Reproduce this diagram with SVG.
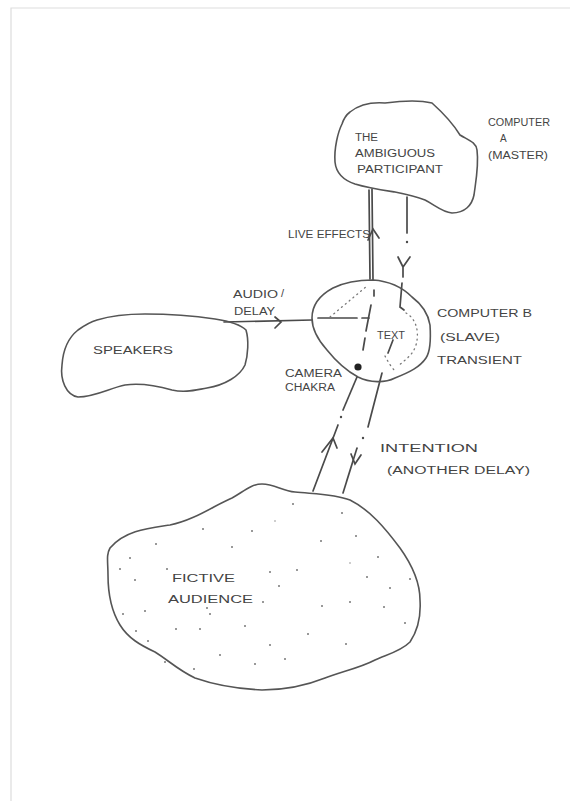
<svg xmlns="http://www.w3.org/2000/svg" width="574" height="801" viewBox="0 0 574 801">
<style>
.cl{fill:none;stroke:#555;stroke-width:1.6;stroke-linejoin:round;stroke-linecap:round}
.ln{fill:none;stroke:#4a4a4a;stroke-width:1.7;stroke-linecap:round}
.dot{fill:none;stroke:#777;stroke-width:1.3;stroke-dasharray:1 4;stroke-linecap:round}
.t{font-family:"Liberation Sans",Arial,sans-serif;font-size:11px;fill:#444}
.s{font-size:10px}
.d{fill:#777}
</style>
<rect width="574" height="801" fill="#fff"/>
<path d="M11,801 V8 H570" fill="none" stroke="#ddd" stroke-width="1.2"/>

<g id="connectors">
  <!-- speakers to computer B -->
  <path class="ln" d="M224,322 L312,320"/>
  <path class="ln" d="M275,317 L281,322 L275,328"/>
  <!-- live effects (up) -->
  <path class="ln" d="M372,189 L373,280"/>
  <path class="ln" d="M369,190 L370,279" stroke-width="0.8"/>
  <path class="ln" d="M368,240 L373,229 L379,238"/>
  <!-- master to slave (down, dash-dot) -->
  <path class="ln" d="M407,197 L407,233"/>
  <circle cx="407" cy="242" r="1.2" fill="#4a4a4a"/>
  <path class="ln" d="M398,257 L403,267 L410,257 M403,267 L403,277"/>
  <path class="ln" d="M402,283 L400,307 L404,310"/>
  <!-- intention lines -->
  <path class="ln" d="M357,377 L343,410"/>
  <circle cx="341" cy="417" r="1.2" fill="#4a4a4a"/>
  <path class="ln" d="M338,425 L313,491"/>
  <path class="ln" d="M322,452 L333,438 L337,448"/>
  <path class="ln" d="M382,373 L368,427"/>
  <circle cx="363" cy="438" r="1.2" fill="#4a4a4a"/>
  <path class="ln" d="M357,448 L343,493"/>
  <path class="ln" d="M351,454 L355,464 L361,455"/>
</g>

<g id="computer-a">
  <path class="cl" d="M350,112 C360,104 372,102 385,103 C400,101 420,100 432,103 C442,112 452,122 460,135 C468,140 476,142 477,150 C479,165 476,180 474,195 C472,205 465,213 452,213 C442,212 435,205 425,200 C415,196 405,194 395,192 C382,190 368,188 355,184 C343,180 336,172 335,162 C334,148 338,132 342,124 C344,118 346,115 350,112 Z"/>
  <text class="t s" x="355" y="141" textLength="23" lengthAdjust="spacingAndGlyphs">THE</text>
  <text class="t s" x="355" y="157" textLength="80" lengthAdjust="spacingAndGlyphs">AMBIGUOUS</text>
  <text class="t s" x="357" y="173" textLength="86" lengthAdjust="spacingAndGlyphs">PARTICIPANT</text>
  <text class="t s" x="488" y="126" textLength="62" lengthAdjust="spacingAndGlyphs">COMPUTER</text>
  <text class="t s" x="500" y="142">A</text>
  <text class="t s" x="488" y="159" textLength="60" lengthAdjust="spacingAndGlyphs">(MASTER)</text>
</g>

<g id="computer-b">
  <path class="cl" d="M373,280 C388,281 402,287 412,297 C420,303 428,312 430,325 C431,340 430,352 426,358 C420,367 410,372 395,378 C385,383 370,383 358,377 C345,370 335,360 327,350 C318,340 312,330 312,318 C312,305 320,295 333,288 C345,282 360,280 373,280 Z"/>
  <path class="ln" d="M318,318 L357,318 M362,318 L369,318" stroke-width="1.4"/>
  <path class="ln" d="M374,290 L374,296 M371,305 L366,331 M365,338 L363,350" stroke-width="1.4"/>
  <path class="dot" d="M330,317 L367,286"/>
  <path class="dot" d="M406,313 C415,318 420,330 416,345 C413,355 405,360 398,366"/>
  <path class="dot" d="M385,356 C388,362 392,368 396,372"/>
  <path class="ln" d="M393,340 L388,353" stroke-width="1.4"/>
  <circle cx="358" cy="367" r="3.6" fill="#222"/>
  <text class="t s" x="377" y="339" textLength="28" lengthAdjust="spacingAndGlyphs">TEXT</text>
  <text class="t" x="437" y="317" textLength="95" lengthAdjust="spacingAndGlyphs">COMPUTER B</text>
  <text class="t" x="440" y="341" textLength="60" lengthAdjust="spacingAndGlyphs">(SLAVE)</text>
  <text class="t" x="437" y="364" textLength="85" lengthAdjust="spacingAndGlyphs">TRANSIENT</text>
  <text class="t s" x="285" y="377" textLength="57" lengthAdjust="spacingAndGlyphs">CAMERA</text>
  <text class="t s" x="285" y="391" textLength="50" lengthAdjust="spacingAndGlyphs">CHAKRA</text>
</g>

<g id="speakers">
  <path class="cl" d="M97,320 C110,316 125,314 145,314 C170,314 195,316 215,319 C228,321 240,324 246,330 C249,340 248,355 245,365 C240,376 225,385 207,388 C195,390 185,393 172,390 C158,386 140,383 125,385 C110,388 95,397 78,397 C66,395 60,380 62,365 C63,350 68,338 78,330 C85,325 90,322 97,320 Z"/>
  <text class="t s" x="93" y="354" textLength="80" lengthAdjust="spacingAndGlyphs">SPEAKERS</text>
</g>

<g id="labels">
  <text class="t" x="288" y="238" textLength="82" lengthAdjust="spacingAndGlyphs">LIVE EFFECTS</text>
  <text class="t s" x="233" y="298" textLength="45" lengthAdjust="spacingAndGlyphs">AUDIO</text>
  <text class="t" x="281" y="297">/</text>
  <text class="t s" x="234" y="315" textLength="41" lengthAdjust="spacingAndGlyphs">DELAY</text>
  <text class="t" x="380" y="452" textLength="98" lengthAdjust="spacingAndGlyphs">INTENTION</text>
  <text class="t s" x="387" y="474" textLength="143" lengthAdjust="spacingAndGlyphs">(ANOTHER DELAY)</text>
</g>

<g id="audience">
  <path class="cl" d="M110,548 C125,530 150,528 170,525 C195,520 215,505 232,498 C242,493 250,484 262,484 C275,484 282,491 295,492 C315,494 335,494 350,500 C370,510 385,528 400,548 C410,562 420,580 420,600 C421,615 418,630 410,642 C400,652 385,655 375,660 C360,668 340,672 325,678 C305,686 285,690 262,690 C240,689 215,685 195,678 C178,670 168,660 155,652 C140,645 128,638 120,625 C112,612 108,595 108,575 C108,562 106,555 110,548 Z"/>
  <text class="t s" x="172" y="582" textLength="63" lengthAdjust="spacingAndGlyphs">FICTIVE</text>
  <text class="t s" x="168" y="603" textLength="85" lengthAdjust="spacingAndGlyphs">AUDIENCE</text>
  <g class="d">
    <circle cx="293" cy="504" r="1"/><circle cx="342" cy="513" r="1"/><circle cx="203" cy="529" r="1"/><circle cx="252" cy="531" r="1"/><circle cx="275" cy="521" r="0.7"/><circle cx="356" cy="536" r="1"/><circle cx="321" cy="541" r="1"/><circle cx="156" cy="544" r="1"/><circle cx="232" cy="547" r="1"/><circle cx="130" cy="558" r="1"/><circle cx="378" cy="557" r="1"/><circle cx="350" cy="563" r="0.7"/><circle cx="120" cy="569" r="1"/><circle cx="167" cy="569" r="1"/><circle cx="270" cy="572" r="1"/><circle cx="297" cy="570" r="1"/><circle cx="135" cy="580" r="1"/><circle cx="367" cy="577" r="1"/><circle cx="410" cy="579" r="1"/><circle cx="279" cy="586" r="1"/><circle cx="390" cy="588" r="1"/><circle cx="263" cy="602" r="1"/><circle cx="322" cy="606" r="1"/><circle cx="350" cy="602" r="1"/><circle cx="384" cy="607" r="1"/><circle cx="207" cy="608" r="1"/><circle cx="210" cy="614" r="1"/><circle cx="145" cy="611" r="1"/><circle cx="123" cy="614" r="1"/><circle cx="405" cy="623" r="1"/><circle cx="245" cy="626" r="1"/><circle cx="176" cy="629" r="1"/><circle cx="200" cy="629" r="1"/><circle cx="136" cy="631" r="1"/><circle cx="308" cy="634" r="1"/><circle cx="148" cy="641" r="1"/><circle cx="270" cy="645" r="1"/><circle cx="346" cy="644" r="1"/><circle cx="220" cy="655" r="1"/><circle cx="165" cy="662" r="1"/><circle cx="285" cy="659" r="1"/><circle cx="255" cy="664" r="1"/><circle cx="194" cy="669" r="1"/>
  </g>
</g>
</svg>
